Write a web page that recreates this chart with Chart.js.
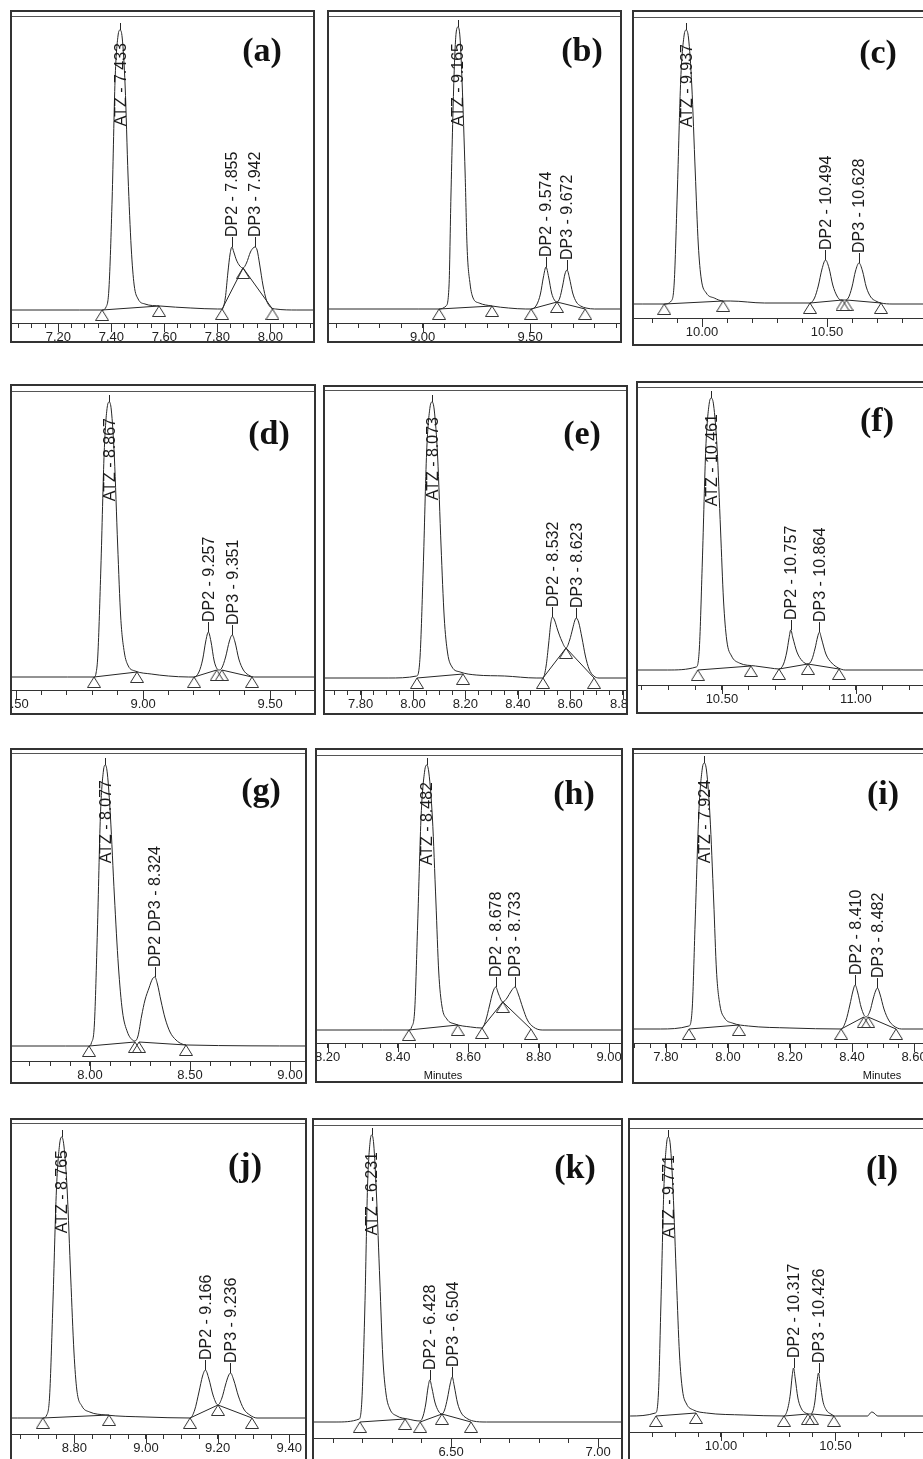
<!DOCTYPE html>
<html>
<head>
<meta charset="utf-8">
<script src="https://cdn.jsdelivr.net/npm/chart.js@4.4.1/dist/chart.umd.min.js"></script>
<style>
  html, body { margin: 0; padding: 0; background: #fff; }
  body { width: 923px; height: 1459px; overflow: hidden; position: relative; font-family: "Liberation Sans", Arial, sans-serif; }
  .panel { position: absolute; border: 2px solid #333; box-sizing: border-box; background: #fff; overflow: hidden; }
  .panel canvas { position: absolute; left: 0; top: 0; }
  .tag { position: absolute; font: bold 34px "Liberation Serif", "Times New Roman", serif; color: #111; transform: translate(-50%, -50%); white-space: nowrap; }
  .unit { position: absolute; font: 11px "Liberation Sans", Arial, sans-serif; color: #111; transform: translate(-50%, -50%); }
</style>
</head>
<body>
<script>
// ---- chromatogram traces: retention time (min) and detector signal (arbitrary units) ----
const aTime = [7.00, 7.28, 7.365, 7.380, 7.391, 7.403, 7.414, 7.425, 7.433, 7.441, 7.452, 7.463, 7.475, 7.486, 7.501, 7.527, 7.584, 7.70, 7.80, 7.818, 7.830, 7.840, 7.848, 7.855, 7.862, 7.872, 7.885, 7.897, 7.910, 7.925, 7.935, 7.942, 7.950, 7.960, 7.972, 7.985, 8.000, 8.020, 8.10, 8.20];
const aSignal = [0, 0, 0, 3, 22, 112, 230, 274, 280, 272, 224, 134, 62, 25, 11, 6, 4, 2, 1, 1, 12, 38, 56, 63, 58, 50, 44, 42, 47, 58, 62, 63, 60, 45, 25, 10, 3, 1, 0, 0];
const aMarkT = [7.365, 7.580, 7.818, 7.897, 8.008];
const aMarkS = [0, 4, 1, 42, 1];
const aLinks = [[0, 1], [2, 3], [3, 4]];
const aPeakName = ['ATZ', 'DP2', 'DP3'];
const aPeakT = [7.433, 7.855, 7.942];
const aPeakS = [280, 63, 63];
const aMajor = [7.0, 7.2, 7.4, 7.6, 7.8, 8.0, 8.2];

const bTime = [8.50, 8.98, 9.077, 9.109, 9.123, 9.132, 9.146, 9.156, 9.165, 9.174, 9.184, 9.198, 9.207, 9.221, 9.235, 9.263, 9.323, 9.40, 9.48, 9.505, 9.530, 9.548, 9.562, 9.574, 9.586, 9.600, 9.613, 9.625, 9.638, 9.652, 9.662, 9.672, 9.683, 9.698, 9.715, 9.735, 9.760, 9.80, 9.95];
const bSignal = [0, 0, 0, 3, 23, 113, 231, 276, 282, 272, 226, 135, 62, 25, 11, 6, 3, 1, 0, 0, 4, 15, 32, 42, 32, 16, 9, 7, 11, 24, 35, 39, 31, 16, 7, 3, 1, 0, 0];
const bMarkT = [9.077, 9.323, 9.505, 9.625, 9.756];
const bMarkS = [0, 3, 0, 7, 0];
const bLinks = [[0, 1], [2, 3], [3, 4]];
const bPeakName = ['ATZ', 'DP2', 'DP3'];
const bPeakT = [9.165, 9.574, 9.672];
const bPeakS = [282, 42, 39];
const bMajor = [8.5, 9.0, 9.5, 10.0];

const cTime = [9.70, 9.761, 9.849, 9.877, 9.889, 9.901, 9.915, 9.928, 9.937, 9.946, 9.959, 9.973, 9.985, 9.997, 10.017, 10.049, 10.085, 10.113, 10.25, 10.40, 10.432, 10.450, 10.465, 10.480, 10.494, 10.508, 10.523, 10.540, 10.555, 10.570, 10.585, 10.600, 10.614, 10.628, 10.642, 10.657, 10.675, 10.695, 10.716, 10.76, 10.95];
const cSignal = [0, 0, 0, 3, 22, 110, 225, 268, 274, 266, 219, 132, 60, 25, 11, 6, 3, 3, 1, 1, 1, 6, 18, 35, 44, 36, 19, 8, 4, 4, 6, 17, 33, 41, 33, 17, 7, 3, 1, 0, 0];
const cMarkT = [9.849, 10.085, 10.432, 10.562, 10.578, 10.716];
const cMarkS = [0, 3, 1, 4, 4, 1];
const cLinks = [[0, 1], [2, 3], [4, 5]];
const cPeakName = ['ATZ', 'DP2', 'DP3'];
const cPeakT = [9.937, 10.494, 10.628];
const cPeakS = [274, 44, 41];
const cMajor = [10.0, 10.5];

const dTime = [8.45, 8.702, 8.807, 8.815, 8.822, 8.834, 8.847, 8.859, 8.867, 8.875, 8.887, 8.900, 8.912, 8.926, 8.942, 8.969, 9.032, 9.10, 9.18, 9.201, 9.220, 9.235, 9.247, 9.257, 9.267, 9.280, 9.292, 9.300, 9.310, 9.325, 9.340, 9.351, 9.362, 9.377, 9.395, 9.415, 9.440, 9.70];
const dSignal = [0, 0, 0, 4, 22, 110, 225, 270, 275, 267, 220, 132, 60, 25, 11, 6, 3, 1, 0, 0, 5, 18, 36, 45, 36, 16, 8, 7, 9, 20, 36, 42, 35, 18, 7, 2, 0, 0];
const dMarkT = [8.807, 8.976, 9.201, 9.290, 9.310, 9.429];
const dMarkS = [0, 5, 0, 7, 7, 0];
const dLinks = [[0, 1], [2, 3], [4, 5]];
const dPeakName = ['ATZ', 'DP2', 'DP3'];
const dPeakT = [8.867, 9.257, 9.351];
const dPeakS = [275, 45, 42];
const dMajor = [8.5, 9.0, 9.5];

const eTime = [7.60, 7.905, 8.014, 8.027, 8.039, 8.052, 8.065, 8.073, 8.081, 8.094, 8.107, 8.119, 8.132, 8.149, 8.180, 8.241, 8.35, 8.47, 8.496, 8.508, 8.518, 8.526, 8.532, 8.540, 8.552, 8.568, 8.584, 8.598, 8.610, 8.617, 8.623, 8.632, 8.645, 8.658, 8.672, 8.690, 8.71, 8.85];
const eSignal = [0, 0, 2, 22, 110, 226, 271, 276, 268, 221, 132, 61, 25, 11, 6, 3, 2, 0, 0, 12, 35, 55, 61, 58, 48, 37, 30, 38, 50, 57, 60, 56, 40, 22, 9, 2, 0, 0];
const eMarkT = [8.015, 8.191, 8.496, 8.584, 8.691];
const eMarkS = [0, 4, 0, 30, 0];
const eLinks = [[0, 1], [2, 3], [3, 4]];
const ePeakName = ['ATZ', 'DP2', 'DP3'];
const ePeakT = [8.073, 8.532, 8.623];
const ePeakS = [276, 61, 60];
const eMajor = [7.8, 8.0, 8.2, 8.4, 8.6, 8.8];

const fTime = [10.15, 10.297, 10.404, 10.416, 10.427, 10.440, 10.453, 10.461, 10.469, 10.482, 10.495, 10.506, 10.518, 10.536, 10.565, 10.625, 10.68, 10.713, 10.730, 10.742, 10.750, 10.757, 10.765, 10.780, 10.800, 10.821, 10.835, 10.848, 10.857, 10.864, 10.872, 10.888, 10.910, 10.935, 10.96, 11.30];
const fSignal = [0, 0, 3, 22, 108, 222, 267, 272, 265, 222, 140, 70, 30, 14, 7, 4, 2, 1, 6, 18, 31, 40, 32, 18, 9, 6, 10, 22, 33, 38, 31, 16, 7, 2, 0, 0];
const fMarkT = [10.410, 10.608, 10.713, 10.821, 10.937];
const fMarkS = [0, 4, 1, 6, 1];
const fLinks = [[0, 1], [2, 3], [3, 4]];
const fPeakName = ['ATZ', 'DP2', 'DP3'];
const fPeakT = [10.461, 10.757, 10.864];
const fPeakS = [272, 40, 38];
const fMajor = [10.5, 11.0];

const gTime = [7.55, 7.877, 7.995, 8.007, 8.022, 8.037, 8.052, 8.067, 8.077, 8.087, 8.102, 8.122, 8.142, 8.162, 8.187, 8.212, 8.225, 8.240, 8.258, 8.275, 8.295, 8.312, 8.324, 8.337, 8.355, 8.375, 8.400, 8.430, 8.460, 8.49, 9.10];
const gSignal = [0, 0, 0, 3, 22, 115, 230, 275, 281, 272, 230, 150, 80, 35, 14, 6, 5, 10, 30, 46, 58, 67, 69, 62, 45, 28, 14, 6, 2, 1, 0];
const gMarkT = [7.995, 8.225, 8.245, 8.480];
const gMarkS = [0, 4, 4, 1];
const gLinks = [[0, 1], [2, 3]];
const gPeakName = ['ATZ', 'DP2 DP3'];
const gPeakT = [8.077, 8.324];
const gPeakS = [281, 69];
const gMajor = [8.0, 8.5, 9.0];

const hTime = [8.15, 8.357, 8.431, 8.439, 8.448, 8.456, 8.466, 8.476, 8.482, 8.488, 8.498, 8.508, 8.516, 8.525, 8.539, 8.562, 8.607, 8.639, 8.650, 8.660, 8.670, 8.678, 8.686, 8.698, 8.710, 8.722, 8.733, 8.742, 8.755, 8.768, 8.785, 8.81, 9.05];
const hSignal = [0, 0, 0, 3, 22, 105, 215, 259, 265, 257, 212, 128, 58, 24, 11, 6, 3, 2, 10, 24, 38, 43, 36, 28, 32, 39, 43, 36, 22, 10, 3, 0, 0];
const hMarkT = [8.431, 8.570, 8.639, 8.698, 8.778];
const hMarkS = [0, 5, 2, 28, 1];
const hLinks = [[0, 1], [2, 3], [3, 4]];
const hPeakName = ['ATZ', 'DP2', 'DP3'];
const hPeakT = [8.482, 8.678, 8.733];
const hPeakS = [265, 43, 43];
const hMajor = [8.2, 8.4, 8.6, 8.8, 9.0];

const iTime = [7.65, 7.782, 7.874, 7.885, 7.894, 7.906, 7.917, 7.924, 7.931, 7.942, 7.954, 7.963, 7.974, 7.989, 8.014, 8.066, 8.20, 8.365, 8.380, 8.393, 8.403, 8.410, 8.418, 8.430, 8.445, 8.458, 8.468, 8.476, 8.482, 8.490, 8.503, 8.518, 8.535, 8.56, 8.70];
const iSignal = [0, 0, 3, 22, 105, 216, 260, 266, 258, 213, 128, 58, 24, 11, 6, 3, 1, 0, 8, 24, 38, 44, 37, 21, 12, 18, 30, 38, 41, 35, 20, 9, 3, 0, 0];
const iMarkT = [7.874, 8.035, 8.365, 8.438, 8.452, 8.542];
const iMarkS = [0, 4, 0, 12, 12, 0];
const iLinks = [[0, 1], [2, 3], [4, 5]];
const iPeakName = ['ATZ', 'DP2', 'DP3'];
const iPeakT = [7.924, 8.410, 8.482];
const iPeakS = [266, 44, 41];
const iMajor = [7.8, 8.0, 8.2, 8.4, 8.6];

const jTime = [8.60, 8.642, 8.712, 8.723, 8.731, 8.740, 8.750, 8.759, 8.765, 8.771, 8.780, 8.790, 8.799, 8.807, 8.821, 8.843, 8.888, 9.00, 9.123, 9.136, 9.148, 9.158, 9.166, 9.175, 9.188, 9.201, 9.212, 9.222, 9.230, 9.236, 9.245, 9.258, 9.273, 9.290, 9.31, 9.46];
const jSignal = [0, 0, 0, 3, 22, 112, 228, 274, 281, 272, 228, 140, 66, 28, 12, 6, 3, 1, 0, 8, 26, 42, 48, 40, 22, 13, 20, 33, 42, 45, 38, 22, 9, 3, 0, 0];
const jMarkT = [8.712, 8.897, 9.123, 9.201, 9.296];
const jMarkS = [0, 3, 0, 13, 0];
const jLinks = [[0, 1], [2, 3], [3, 4]];
const jPeakName = ['ATZ', 'DP2', 'DP3'];
const jPeakT = [8.765, 9.166, 9.236];
const jPeakS = [281, 48, 45];
const jMajor = [8.6, 8.8, 9.0, 9.2, 9.4];

const kTime = [6.00, 6.109, 6.188, 6.197, 6.207, 6.216, 6.225, 6.231, 6.237, 6.246, 6.258, 6.268, 6.279, 6.292, 6.316, 6.353, 6.395, 6.405, 6.414, 6.422, 6.428, 6.435, 6.445, 6.457, 6.469, 6.478, 6.488, 6.497, 6.504, 6.511, 6.522, 6.535, 6.552, 6.575, 6.62, 7.10];
const kSignal = [0, 0, 3, 23, 115, 235, 281, 287, 278, 230, 140, 65, 28, 13, 6, 3, 1, 6, 18, 35, 42, 34, 20, 11, 8, 12, 24, 38, 45, 36, 19, 9, 4, 1, 0, 0];
const kMarkT = [6.190, 6.344, 6.395, 6.469, 6.568];
const kMarkS = [0, 3, 0, 8, 0];
const kLinks = [[0, 1], [2, 3], [3, 4]];
const kPeakName = ['ATZ', 'DP2', 'DP3'];
const kPeakT = [6.231, 6.428, 6.504];
const kPeakS = [287, 42, 45];
const kMajor = [6.0, 6.5, 7.0];

const lTime = [9.55, 9.605, 9.714, 9.727, 9.738, 9.751, 9.763, 9.771, 9.779, 9.791, 9.806, 9.819, 9.832, 9.850, 9.880, 9.937, 10.10, 10.275, 10.290, 10.303, 10.311, 10.317, 10.324, 10.336, 10.352, 10.370, 10.388, 10.400, 10.410, 10.419, 10.426, 10.433, 10.445, 10.460, 10.480, 10.50, 10.64, 10.652, 10.659, 10.668, 10.685, 10.95];
const lSignal = [0, 0, 3, 22, 112, 228, 273, 279, 271, 225, 135, 62, 26, 12, 6, 3, 1, 0, 6, 22, 40, 48, 38, 18, 7, 3, 2, 4, 14, 33, 43, 33, 15, 6, 2, 0, 0, 3, 4, 3, 0, 0];
const lMarkT = [9.716, 9.891, 10.275, 10.380, 10.397, 10.493];
const lMarkS = [0, 3, 0, 2, 2, 0];
const lLinks = [[0, 1], [2, 3], [4, 5]];
const lPeakName = ['ATZ', 'DP2', 'DP3'];
const lPeakT = [9.771, 10.317, 10.426];
const lPeakS = [279, 48, 43];
const lMajor = [10.0, 10.5];

// ---- page layout (px): box = [left, top, right, bottom], thin rule, axis line, signal zero ----
const panels = [
  { tag: '(a)', box: [10, 10, 315, 343], thin: 16, axis: 323, base: 310, range: [7.025, 8.161], step: 0.05, major: aMajor, t: aTime, s: aSignal, mt: aMarkT, ms: aMarkS, links: aLinks, pn: aPeakName, pt: aPeakT, ps: aPeakS, tagAt: [262, 50] },
  { tag: '(b)', box: [327, 10, 622, 343], thin: 16, axis: 323, base: 309, range: [8.565, 9.918], step: 0.1, major: bMajor, t: bTime, s: bSignal, mt: bMarkT, ms: bMarkS, links: bLinks, pn: bPeakName, pt: bPeakT, ps: bPeakS, tagAt: [582, 50] },
  { tag: '(c)', box: [632, 10, 930, 346], thin: 17, axis: 318, base: 304, range: [9.728, 10.904], step: 0.1, major: cMajor, t: cTime, s: cSignal, mt: cMarkT, ms: cMarkS, links: cLinks, pn: cPeakName, pt: cPeakT, ps: cPeakS, tagAt: [878, 52] },
  { tag: '(d)', box: [10, 384, 316, 715], thin: 391, axis: 690, base: 677, range: [8.484, 9.673], step: 0.1, major: dMajor, t: dTime, s: dSignal, mt: dMarkT, ms: dMarkS, links: dLinks, pn: dPeakName, pt: dPeakT, ps: dPeakS, tagAt: [269, 433] },
  { tag: '(e)', box: [323, 385, 628, 715], thin: 390, axis: 690, base: 678, range: [7.664, 8.813], step: 0.05, major: eMajor, t: eTime, s: eSignal, mt: eMarkT, ms: eMarkS, links: eLinks, pn: ePeakName, pt: ePeakT, ps: ePeakS, tagAt: [582, 433] },
  { tag: '(f)', box: [636, 381, 930, 714], thin: 387, axis: 685, base: 670, range: [10.187, 11.269], step: 0.1, major: fMajor, t: fTime, s: fSignal, mt: fMarkT, ms: fMarkS, links: fLinks, pn: fPeakName, pt: fPeakT, ps: fPeakS, tagAt: [877, 420] },
  { tag: '(g)', box: [10, 748, 307, 1084], thin: 753, axis: 1061, base: 1046, range: [7.61, 9.075], step: 0.1, major: gMajor, t: gTime, s: gSignal, mt: gMarkT, ms: gMarkS, links: gLinks, pn: gPeakName, pt: gPeakT, ps: gPeakS, tagAt: [261, 790] },
  { tag: '(h)', box: [315, 748, 623, 1083], thin: 755, axis: 1043, base: 1030, range: [8.170, 9.034], step: 0.05, major: hMajor, t: hTime, s: hSignal, mt: hMarkT, ms: hMarkS, links: hLinks, pn: hPeakName, pt: hPeakT, ps: hPeakS, tagAt: [574, 793], unitAt: [443, 1075] },
  { tag: '(i)', box: [632, 748, 930, 1084], thin: 753, axis: 1043, base: 1029, range: [7.697, 8.645], step: 0.05, major: iMajor, t: iTime, s: iSignal, mt: iMarkT, ms: iMarkS, links: iLinks, pn: iPeakName, pt: iPeakT, ps: iPeakS, tagAt: [883, 793], unitAt: [882, 1075] },
  { tag: '(j)', box: [10, 1118, 307, 1470], thin: 1123, axis: 1434, base: 1418, range: [8.626, 9.444], step: 0.05, major: jMajor, t: jTime, s: jSignal, mt: jMarkT, ms: jMarkS, links: jLinks, pn: jPeakName, pt: jPeakT, ps: jPeakS, tagAt: [245, 1165] },
  { tag: '(k)', box: [312, 1118, 623, 1470], thin: 1125, axis: 1438, base: 1422, range: [6.034, 7.078], step: 0.1, major: kMajor, t: kTime, s: kSignal, mt: kMarkT, ms: kMarkS, links: kLinks, pn: kPeakName, pt: kPeakT, ps: kPeakS, tagAt: [575, 1167] },
  { tag: '(l)', box: [628, 1118, 930, 1470], thin: 1128, axis: 1432, base: 1416, range: [9.603, 10.904], step: 0.1, major: lMajor, t: lTime, s: lSignal, mt: lMarkT, ms: lMarkS, links: lLinks, pn: lPeakName, pt: lPeakT, ps: lPeakS, tagAt: [882, 1168] }
];

const INK = '#262626';
const SANS = '"Liberation Sans", Arial, sans-serif';

// integration marker: open triangle hanging below its point
const tri = document.createElement('canvas');
tri.width = 14; tri.height = 24;
const tc = tri.getContext('2d');
tc.strokeStyle = '#333';
tc.lineWidth = 1;
tc.beginPath();
tc.moveTo(7, 12);
tc.lineTo(13.5, 22.5);
tc.lineTo(0.5, 22.5);
tc.closePath();
tc.stroke();

// thin rule under the frame top + longer ticks at labelled values
const framePlugin = {
  id: 'frame',
  afterDraw(chart) {
    const ctx = chart.ctx, area = chart.chartArea, sx = chart.scales.x;
    const p = chart.options.plugins.frame;
    ctx.save();
    ctx.strokeStyle = '#555';
    ctx.lineWidth = 1;
    ctx.beginPath();
    ctx.moveTo(0, area.top + 0.5);
    ctx.lineTo(chart.width, area.top + 0.5);
    ctx.stroke();
    ctx.strokeStyle = '#333';
    p.major.forEach(m => {
      if (m < sx.min || m > sx.max) return;
      const x = Math.round(sx.getPixelForValue(m)) + 0.5;
      ctx.beginPath();
      ctx.moveTo(x, sx.top);
      ctx.lineTo(x, sx.top + 9);
      ctx.stroke();
    });
    ctx.restore();
  }
};

// rotated peak labels "NAME - rt"
const peakPlugin = {
  id: 'peaks',
  afterDatasetsDraw(chart) {
    const ctx = chart.ctx, sx = chart.scales.x, sy = chart.scales.y;
    const p = chart.options.plugins.peaks;
    ctx.save();
    ctx.font = '16px ' + SANS;
    ctx.fillStyle = '#1a1a1a';
    ctx.strokeStyle = INK;
    ctx.lineWidth = 1;
    p.names.forEach((name, k) => {
      const text = name + ' - ' + p.times[k].toFixed(3);
      const x = sx.getPixelForValue(p.times[k]);
      const y = sy.getPixelForValue(p.heights[k]);
      const len = ctx.measureText(text).width;
      let bottom = y - 10;
      let top = bottom - len;
      if (top < chart.chartArea.top + 27) {
        top = chart.chartArea.top + 27;
        bottom = top + len;
      }
      const lineEnd = bottom < y ? bottom : y - 7;
      ctx.beginPath();
      ctx.moveTo(Math.round(x) + 0.5, y);
      ctx.lineTo(Math.round(x) + 0.5, lineEnd);
      ctx.stroke();
      ctx.save();
      ctx.translate(x + 1, bottom);
      ctx.rotate(-Math.PI / 2);
      ctx.textAlign = 'left';
      ctx.textBaseline = 'middle';
      ctx.fillText(text, 0, 0);
      ctx.restore();
    });
    ctx.restore();
  }
};

panels.forEach(p => {
  const [left, top, right, bottom] = p.box;
  const div = document.createElement('div');
  div.className = 'panel';
  div.style.left = left + 'px';
  div.style.top = top + 'px';
  div.style.width = (right - left) + 'px';
  div.style.height = (bottom - top) + 'px';
  document.body.appendChild(div);

  const w = right - left - 4, h = bottom - top - 4;
  const canvas = document.createElement('canvas');
  canvas.width = w;
  canvas.height = h;
  canvas.style.width = w + 'px';
  canvas.style.height = h + 'px';
  div.appendChild(canvas);

  const innerTop = top + 2;
  const axisH = h - (p.axis - innerTop);

  const trace = p.t.map((t, k) => ({ x: t, y: p.s[k] }));
  const marks = p.mt.map((t, k) => ({ x: t, y: p.ms[k] }));
  const datasets = [{
    data: trace,
    borderColor: INK,
    borderWidth: 1,
    pointRadius: 0,
    cubicInterpolationMode: 'monotone',
    fill: false
  }];
  p.links.forEach(([i, j]) => {
    datasets.push({
      data: [marks[i], marks[j]],
      borderColor: INK,
      borderWidth: 1,
      pointRadius: 0,
      tension: 0,
      fill: false
    });
  });
  datasets.push({
    data: marks,
    showLine: false,
    pointStyle: tri,
    pointRadius: 6,
    borderWidth: 0,
    clip: false
  });

  new Chart(canvas, {
    type: 'line',
    data: { datasets },
    options: {
      responsive: false,
      animation: false,
      events: [],
      layout: { autoPadding: false, padding: { top: p.thin - innerTop, left: 0, right: 0, bottom: 0 } },
      plugins: {
        legend: { display: false },
        tooltip: { enabled: false },
        frame: { major: p.major },
        peaks: { names: p.pn, times: p.pt, heights: p.ps }
      },
      scales: {
        x: {
          type: 'linear',
          min: p.range[0],
          max: p.range[1],
          afterFit: s => { s.height = axisH; s.paddingLeft = 0; s.paddingRight = 0; },
          border: { display: true, color: '#333', width: 1 },
          grid: { drawOnChartArea: false, drawTicks: true, tickLength: 5, tickColor: '#333' },
          ticks: {
            stepSize: p.step,
            autoSkip: false,
            maxRotation: 0,
            minRotation: 0,
            includeBounds: false,
            padding: 2,
            color: '#222',
            font: { size: 13, family: SANS },
            callback: v => p.major.some(m => Math.abs(m - v) < 1e-6) ? v.toFixed(2) : ''
          }
        },
        y: {
          display: false,
          min: -(p.axis - p.base),
          max: p.base - p.thin
        }
      }
    },
    plugins: [framePlugin, peakPlugin]
  });

  const tag = document.createElement('div');
  tag.className = 'tag';
  tag.textContent = p.tag;
  tag.style.left = p.tagAt[0] + 'px';
  tag.style.top = p.tagAt[1] + 'px';
  document.body.appendChild(tag);

  if (p.unitAt) {
    const u = document.createElement('div');
    u.className = 'unit';
    u.textContent = 'Minutes';
    u.style.left = p.unitAt[0] + 'px';
    u.style.top = p.unitAt[1] + 'px';
    document.body.appendChild(u);
  }
});
</script>
</body>
</html>
